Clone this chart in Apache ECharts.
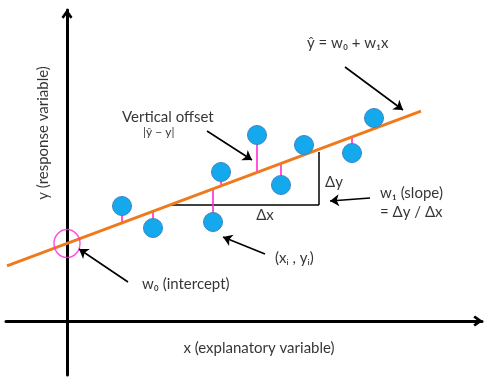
<!DOCTYPE html>
<html><head><meta charset="utf-8">
<script src="https://cdn.jsdelivr.net/npm/echarts@6/dist/echarts.min.js"></script>
<style>html,body{margin:0;padding:0;background:#fff}#c{width:488px;height:381px}</style>
</head><body><div id="c"></div>
<script>
// Observations (x_i, y_i)
const pointsX = [5.5, 8.6, 14.6, 15.4, 19.0, 21.4, 23.7, 28.5, 30.7];
const pointsY = [11.5, 9.3, 9.9, 14.9, 18.6, 13.6, 17.6, 16.8, 20.3];
// Regression line y = w0 + w1 x
const w0 = 7.75;
const w1 = 0.374;
const lineX = [-6.0, 35.4];
// Slope triangle (Δx, Δy)
const slopeX = [10.3, 25.2];
const slopeYTop = 16.9;
// Annotation arrows [from, to]
const arrows = [
  [[14.0, 19.0], [18.5, 16.1]],
  [[27.8, 25.4], [33.6, 21.1]],
  [[30.3, 12.3], [26.3, 12.0]],
  [[19.8, 6.7], [15.6, 8.4]],
  [[6.1, 3.9], [1.2, 7.2]]
];
// Text annotations [x, y, text, align, fontSize]
const labels = [
  [24.0, 27.8, 'ŷ = w₀ + w₁x', 'left', 15],
  [5.5, 20.4, 'Vertical offset', 'left', 15],
  [7.6, 18.9, '|ŷ − y|', 'left', 12],
  [25.8, 13.9, 'Δy', 'left', 15],
  [19.8, 10.6, 'Δx', 'center', 15],
  [31.3, 12.8, 'w₁ (slope)', 'left', 15],
  [31.3, 10.9, '= Δy / Δx', 'left', 15],
  [20.8, 6.3, '(xᵢ , yᵢ)', 'left', 15],
  [7.5, 3.7, 'w₀ (intercept)', 'left', 15],
  [19.2, -2.7, 'x (explanatory variable)', 'center', 15]
];
const yTitle = [-2.4, 18.8, 'y (response variable)'];

const fit = x => w0 + w1 * x;
const FONT = 'Lato, "DejaVu Sans", sans-serif';
const chev = 'path://M5,0 L10,7 L8.2,8.6 L5,4.2 L1.8,8.6 L0,7 Z';

const chart = echarts.init(document.getElementById('c'), null, {renderer: 'canvas'});
chart.setOption({
  animation: false,
  backgroundColor: '#fff',
  grid: {left: 6, right: 6, top: 10, bottom: 6},
  xAxis: {type: 'value', min: -6.1, max: 41.5,
    axisLine: {show: true, onZero: true, symbol: ['none', chev], symbolSize: [11, 11], symbolOffset: [0, -4],
      lineStyle: {color: '#000', width: 3}},
    axisTick: {show: false}, axisLabel: {show: false}, splitLine: {show: false}},
  yAxis: {type: 'value', min: -5.4, max: 31.1,
    axisLine: {show: true, onZero: true, symbol: ['none', chev], symbolSize: [11, 11], symbolOffset: [0, -4],
      lineStyle: {color: '#000', width: 3}},
    axisTick: {show: false}, axisLabel: {show: false}, splitLine: {show: false}},
  series: [
    {type: 'lines', coordinateSystem: 'cartesian2d', z: 2,
      lineStyle: {color: '#000', width: 1.5, opacity: 1},
      data: [
        {coords: [[slopeX[0], fit(slopeX[0])], [slopeX[1], fit(slopeX[0])]]},
        {coords: [[slopeX[1], slopeYTop], [slopeX[1], fit(slopeX[0])]]}
      ]},
    {type: 'lines', coordinateSystem: 'cartesian2d', z: 3,
      lineStyle: {color: '#ff2ad4', width: 1.6, opacity: 1},
      data: pointsX.map((x, i) => ({coords: [[x, pointsY[i]], [x, fit(x)]]}))},
    {type: 'line', z: 4, symbol: 'none', lineStyle: {color: '#ef7a1e', width: 3},
      data: lineX.map(x => [x, fit(x)])},
    {type: 'scatter', z: 5, symbol: 'circle', symbolSize: [26, 28],
      itemStyle: {color: 'rgba(0,0,0,0)', borderColor: '#ff2ad4', borderWidth: 1.5},
      data: [[0, w0]]},
    {type: 'scatter', z: 6, symbolSize: 19,
      itemStyle: {color: '#14a9ec', borderColor: '#3d84c6', borderWidth: 1, opacity: 1},
      data: pointsX.map((x, i) => [x, pointsY[i]])},
    {type: 'lines', coordinateSystem: 'cartesian2d', z: 7,
      symbol: ['none', 'arrow'], symbolSize: 9,
      lineStyle: {color: '#000', width: 1.6, opacity: 1},
      data: arrows.map(a => ({coords: a}))},
    {type: 'scatter', z: 8, symbolSize: 0,
      data: labels.map(l => ({value: [l[0], l[1]],
        label: {show: true, position: 'inside', formatter: l[2], align: l[3], verticalAlign: 'middle',
          fontSize: l[4], color: '#000', fontFamily: FONT}}))},
    {type: 'scatter', z: 8, symbolSize: 0,
      data: [{value: [yTitle[0], yTitle[1]],
        label: {show: true, position: 'inside', formatter: yTitle[2], rotate: 90, align: 'center', verticalAlign: 'middle',
          fontSize: 15, color: '#000', fontFamily: FONT}}]}
  ]
});
</script></body></html>
